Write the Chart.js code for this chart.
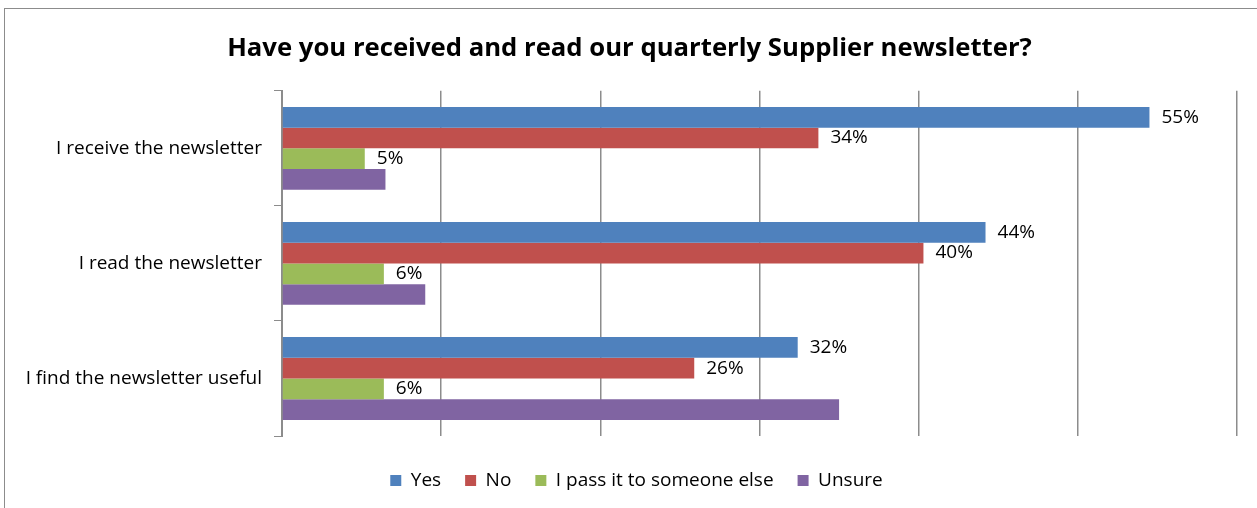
<!DOCTYPE html>
<html>
<head>
<meta charset="utf-8">
<script src="https://cdn.jsdelivr.net/npm/chart.js@4"></script>
<style>
  html, body { margin: 0; padding: 0; background: #fff; }
  #wrap { position: relative; width: 1257px; height: 508px; }
  #frame { position: absolute; left: 4px; top: 8px; right: -2px; bottom: -2px; border: 1px solid #8c8c8c; }
</style>
</head>
<body>
<div id="wrap">
  <canvas id="chart" width="1257" height="508"></canvas>
  <div id="frame"></div>
</div>
<script>
// chart values (percent)
const categories = ["I receive the newsletter", "I read the newsletter", "I find the newsletter useful"];
const yesValues = [54.5, 44.2, 32.4];
const noValues = [33.7, 40.3, 25.9];
const passValues = [5.2, 6.4, 6.4];
const unsureValues = [6.5, 9.0, 35.0];
const xTicks = [0, 10, 20, 30, 40, 50, 60];

const FONT = "'Open Sans', sans-serif";

// draws "55%" style labels next to the bars (Unsure has none)
const barLabels = {
  id: "barLabels",
  afterDatasetsDraw(chart) {
    const ctx = chart.ctx;
    ctx.save();
    ctx.font = "19px " + FONT;
    ctx.fillStyle = "#000";
    ctx.textBaseline = "middle";
    ctx.textAlign = "left";
    chart.data.datasets.forEach((ds, i) => {
      if (!ds.showLabels) return;
      chart.getDatasetMeta(i).data.forEach((bar, j) => {
        ctx.fillText(Math.round(ds.data[j]) + "%", bar.x + 12, bar.y);
      });
    });
    ctx.restore();
  }
};

// nudge title and legend a bit right, like in the original
const nudgeBoxes = {
  id: "nudgeBoxes",
  afterLayout(chart) {
    if (chart.titleBlock) { chart.titleBlock.left += 11; chart.titleBlock.right += 11; }
    if (chart.legend) { chart.legend.left += 18; chart.legend.right += 18; }
  }
};

document.addEventListener("DOMContentLoaded", function () {
  const ctx = document.getElementById("chart").getContext("2d");
  new Chart(ctx, {
    type: "bar",
    data: {
      labels: categories,
      datasets: [
        { label: "Yes", data: yesValues, backgroundColor: "#4f81bd", showLabels: true },
        { label: "No", data: noValues, backgroundColor: "#c0504d", showLabels: true },
        { label: "I pass it to someone else", data: passValues, backgroundColor: "#9bbb59", showLabels: true },
        { label: "Unsure", data: unsureValues, backgroundColor: "#8064a2", showLabels: false },
      ],
    },
    options: {
      indexAxis: "y",
      responsive: false,
      animation: false,
      datasets: { bar: { barPercentage: 1.0, categoryPercentage: 0.72 } },
      layout: { padding: { left: 0, right: 20, top: 0, bottom: 8 } },
      plugins: {
        title: {
          display: true,
          text: "Have you received and read our quarterly Supplier newsletter?",
          font: { family: FONT, size: 25.7, weight: "bold" },
          color: "#000",
          padding: { top: 33, bottom: 27 },
        },
        legend: {
          position: "bottom",
          labels: {
            font: { family: FONT, size: 19 },
            color: "#000",
            boxWidth: 11,
            boxHeight: 11,
            padding: 24,
          },
        },
        tooltip: { enabled: false },
      },
      scales: {
        x: {
          min: 0,
          max: 60,
          afterBuildTicks: (axis) => { axis.ticks = xTicks.map((v) => ({ value: v })); },
          ticks: { display: false },
          grid: { color: "#8c8c8c", lineWidth: 1.5, drawTicks: false },
          border: { display: false },
          afterFit: (axis) => { axis.height += 11; },
        },
        y: {
          ticks: { font: { family: FONT, size: 19 }, color: "#000", padding: 12 },
          grid: { drawOnChartArea: false, offset: true, color: "#8c8c8c", tickLength: 8 },
          border: { color: "#8c8c8c" },
          afterFit: (axis) => { axis.width = 282; },
        },
      },
    },
    plugins: [barLabels, nudgeBoxes],
  });
});
</script>
</body>
</html>
